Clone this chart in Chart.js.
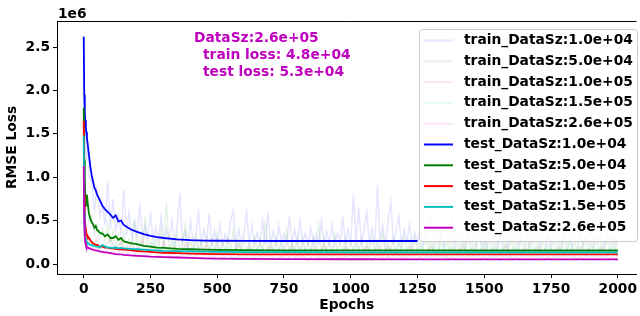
<!DOCTYPE html>
<html>
<head>
<meta charset="utf-8">
<script src="https://cdn.jsdelivr.net/npm/chart.js@4"></script>
<style>
  html, body { margin: 0; padding: 0; background: #fff; }
  #wrap { width: 640px; height: 316px; }
</style>
</head>
<body>
<div id="wrap"><canvas id="grafico" width="640" height="316"></canvas></div>
<script>
// valores en unidades de 1e6
const dataSizes = ['1.0e+04', '5.0e+04', '1.0e+05', '1.5e+05', '2.6e+05'];

// grilla fina (cada 10 epochs) para las curvas de train mas visibles
const epochsTrainFino = [0, 5, 10, 15, 20, 30, 40, 50, 60,
    70, 80, 90, 100, 110, 120, 130, 140, 150, 160,
    170, 180, 190, 200, 210, 220, 230, 240, 250, 260,
    270, 280, 290, 300, 310, 320, 330, 340, 350, 360,
    370, 380, 390, 400, 410, 420, 430, 440, 450, 460,
    470, 480, 490, 500, 510, 520, 530, 540, 550, 560,
    570, 580, 590, 600, 610, 620, 630, 640, 650, 660,
    670, 680, 690, 700, 710, 720, 730, 740, 750, 760,
    770, 780, 790, 800, 810, 820, 830, 840, 850, 860,
    870, 880, 890, 900, 910, 920, 930, 940, 950, 960,
    970, 980, 990, 1000, 1010, 1020, 1030, 1040, 1050, 1060,
    1070, 1080, 1090, 1100, 1110, 1120, 1130, 1140, 1150, 1160,
    1170, 1180, 1190, 1200, 1210, 1220, 1230, 1240, 1250, 1260,
    1270, 1280, 1290, 1300, 1310, 1320, 1330, 1340, 1350, 1360,
    1370, 1380, 1390, 1400, 1410, 1420, 1430, 1440, 1450, 1460,
    1470, 1480, 1490, 1500, 1510, 1520, 1530, 1540, 1550, 1560,
    1570, 1580, 1590, 1600, 1610, 1620, 1630, 1640, 1650, 1660,
    1670, 1680, 1690, 1700, 1710, 1720, 1730, 1740, 1750, 1760,
    1770, 1780, 1790, 1800, 1810, 1820, 1830, 1840, 1850, 1860,
    1870, 1880, 1890, 1900, 1910, 1920, 1930, 1940, 1950, 1960,
    1970, 1980, 1990, 2000];

const epochsTrain = [0, 5, 10, 15, 20, 30, 40, 50, 60,
    80, 100, 120, 140, 160, 180, 200, 220, 240, 260, 280,
    300, 320, 340, 360, 380, 400, 420, 440, 460, 480,
    500, 520, 540, 560, 580, 600, 620, 640, 660, 680,
    700, 720, 740, 760, 780, 800, 820, 840, 860, 880,
    900, 920, 940, 960, 980, 1000, 1020, 1040, 1060, 1080,
    1100, 1120, 1140, 1160, 1180, 1200, 1220, 1240, 1260, 1280,
    1300, 1320, 1340, 1360, 1380, 1400, 1420, 1440, 1460, 1480,
    1500, 1520, 1540, 1560, 1580, 1600, 1620, 1640, 1660, 1680,
    1700, 1720, 1740, 1760, 1780, 1800, 1820, 1840, 1860, 1880,
    1900, 1920, 1940, 1960, 1980, 2000];

const trainLoss1e4 = [2.6, 1.45, 1.2, 1.4, 1.0, 0.95, 0.6, 0.9, 0.55,
    0.7, 0.45, 0.95, 0.4, 0.75, 0.38, 0.55, 0.35, 0.85, 0.33,
    0.6, 0.3, 0.5, 0.32, 0.7, 0.28, 0.45, 0.3, 0.6, 0.27,
    0.42, 0.26, 0.55, 0.25, 0.4, 0.28, 0.5, 0.24, 0.45, 0.82,
    0.25, 0.38, 0.22, 0.5, 0.24, 0.35, 0.6, 0.22, 0.4, 0.25,
    0.58, 0.22, 0.38, 0.24, 0.45, 0.21, 0.35, 0.25, 0.5, 0.62,
    0.22, 0.4, 0.24, 0.35, 0.6, 0.22, 0.45, 0.23, 0.36, 0.25,
    0.5, 0.22, 0.6, 0.24, 0.38, 0.22, 0.45, 0.25, 0.35, 0.22,
    0.55, 0.23, 0.4, 0.22, 0.5, 0.25, 0.36, 0.22, 0.42, 0.24,
    0.35, 0.22, 0.5, 0.25, 0.38, 0.22, 0.45, 0.24, 0.36, 0.25,
    0.55, 0.22, 0.4, 0.24, 0.8, 0.25, 0.65, 0.22, 0.4, 0.6,
    0.24, 0.42, 0.22, 0.9, 0.25, 0.45, 0.22, 0.5, 0.72, 0.24,
    0.38, 0.55, 0.22, 0.4, 0.25, 0.45, 0.22, 0.36, 0.24, 0.4,
    0.22, 0.35, 0.25, 0.55, 0.22, 0.38, 0.24, 0.42, 0.22, 0.35,
    0.25, 0.5, 0.22, 0.36, 0.24, 0.38, 0.22, 0.45, 0.25, 0.35,
    0.22, 0.42, 0.24, 0.36, 0.22, 0.4, 0.25, 0.34, 0.22, 0.36,
    0.24, 0.45, 0.22, 0.35, 0.25, 0.38, 0.22, 0.34, 0.24, 0.4,
    0.22, 0.35, 0.25, 0.36, 0.22, 0.45, 0.24, 0.34, 0.22, 0.38,
    0.25, 0.35, 0.22, 0.4, 0.24, 0.34, 0.22, 0.36, 0.25, 0.38,
    0.22, 0.34, 0.24, 0.4, 0.22, 0.35, 0.25, 0.34, 0.22, 0.36,
    0.24, 0.32, 0.22, 0.3];

const trainLoss5e4 = [1.8, 0.9, 0.7, 0.75, 0.5, 0.55, 0.35, 0.45, 0.3,
    0.4, 0.25, 0.45, 0.22, 0.38, 0.2, 0.3, 0.19, 0.35, 0.18,
    0.28, 0.17, 0.5, 0.17, 0.3, 0.16, 0.55, 0.17, 0.26, 0.16,
    0.3, 0.15, 0.4, 0.16, 0.72, 0.15, 0.28, 0.16, 0.35, 0.15,
    0.25, 0.45, 0.15, 0.28, 0.14, 0.32, 0.15, 0.26, 0.14, 0.3,
    0.15, 0.28, 0.14, 0.35, 0.15, 0.25, 0.14, 0.3, 0.15, 0.4,
    0.14, 0.26, 0.15, 0.3, 0.14, 0.25, 0.15, 0.32, 0.14, 0.28,
    0.15, 0.5, 0.14, 0.27, 0.15, 0.3, 0.14, 0.25, 0.15, 0.38,
    0.14, 0.26, 0.15, 0.3, 0.14, 0.28, 0.15, 0.25, 0.14, 0.32,
    0.15, 0.45, 0.14, 0.28, 0.15, 0.26, 0.14, 0.35, 0.15, 0.25,
    0.14, 0.3, 0.15, 0.26, 0.14, 0.28, 0.15, 0.3, 0.14, 0.25,
    0.15, 0.3, 0.14, 0.28, 0.15, 0.35, 0.14, 0.25, 0.15, 0.3,
    0.14, 0.26, 0.15, 0.32, 0.14, 0.27, 0.15, 0.3, 0.14, 0.26,
    0.15, 0.3, 0.14, 0.28, 0.15, 0.26, 0.14, 0.36, 0.15, 0.27,
    0.14, 0.3, 0.15, 0.25, 0.14, 0.28, 0.15, 0.32, 0.14, 0.26,
    0.15, 0.48, 0.14, 0.28, 0.15, 0.3, 0.14, 0.25, 0.15, 0.32,
    0.14, 0.27, 0.15, 0.3, 0.14, 0.26, 0.15, 0.28, 0.14, 0.34,
    0.15, 0.26, 0.14, 0.3, 0.15, 0.27, 0.14, 0.32, 0.15, 0.28,
    0.14, 0.26, 0.15, 0.3, 0.14, 0.28, 0.15, 0.26, 0.14, 0.5,
    0.15, 0.3, 0.14, 0.27, 0.15, 0.29, 0.14, 0.26, 0.15, 0.3,
    0.14, 0.27, 0.15, 0.28];

const trainLoss1e5 = [1.65, 0.55, 0.4, 0.35, 0.3, 0.28, 0.24, 0.3, 0.2,
    0.18, 0.3, 0.15, 0.26, 0.14, 0.24, 0.13, 0.28, 0.12, 0.22, 0.11,
    0.25, 0.11, 0.2, 0.1, 0.24, 0.1, 0.18, 0.1, 0.22, 0.09,
    0.2, 0.09, 0.17, 0.1, 0.22, 0.09, 0.18, 0.09, 0.16, 0.09,
    0.2, 0.09, 0.17, 0.09, 0.21, 0.08, 0.16, 0.09, 0.19, 0.08,
    0.22, 0.09, 0.16, 0.08, 0.19, 0.09, 0.17, 0.08, 0.2, 0.09,
    0.18, 0.08, 0.2, 0.09, 0.16, 0.08, 0.19, 0.09, 0.17, 0.08,
    0.21, 0.09, 0.16, 0.08, 0.18, 0.09, 0.2, 0.08, 0.16, 0.09,
    0.19, 0.08, 0.17, 0.09, 0.21, 0.08, 0.16, 0.09, 0.18, 0.08,
    0.2, 0.09, 0.16, 0.08, 0.19, 0.09, 0.17, 0.08, 0.2, 0.09,
    0.17, 0.08, 0.19, 0.09, 0.16, 0.08];

const trainLoss15e4 = [1.48, 0.45, 0.35, 0.3, 0.28, 0.26, 0.22, 0.27, 0.2,
    0.19, 0.28, 0.17, 0.25, 0.16, 0.26, 0.15, 0.23, 0.14, 0.25, 0.14,
    0.22, 0.13, 0.26, 0.13, 0.21, 0.13, 0.24, 0.12, 0.2, 0.12,
    0.23, 0.12, 0.2, 0.12, 0.25, 0.12, 0.19, 0.12, 0.22, 0.12,
    0.2, 0.12, 0.23, 0.11, 0.19, 0.12, 0.22, 0.11, 0.24, 0.12,
    0.2, 0.11, 0.22, 0.12, 0.19, 0.11, 0.23, 0.12, 0.2, 0.11,
    0.22, 0.12, 0.19, 0.11, 0.24, 0.12, 0.2, 0.11, 0.22, 0.12,
    0.19, 0.11, 0.23, 0.12, 0.2, 0.11, 0.22, 0.12, 0.19, 0.11,
    0.24, 0.12, 0.2, 0.11, 0.22, 0.12, 0.19, 0.11, 0.23, 0.12,
    0.2, 0.11, 0.22, 0.12, 0.19, 0.11, 0.24, 0.12, 0.2, 0.11,
    0.22, 0.12, 0.19, 0.11, 0.21, 0.12];

const trainLoss26e4 = [1.13, 0.32, 0.25, 0.22, 0.2, 0.18, 0.16, 0.2, 0.14,
    0.13, 0.2, 0.11, 0.17, 0.1, 0.16, 0.09, 0.15, 0.08, 0.14, 0.08,
    0.13, 0.07, 0.12, 0.07, 0.14, 0.06, 0.11, 0.06, 0.12, 0.06,
    0.11, 0.05, 0.12, 0.06, 0.1, 0.05, 0.12, 0.05, 0.1, 0.05,
    0.11, 0.05, 0.1, 0.04, 0.12, 0.05, 0.1, 0.04, 0.11, 0.05,
    0.1, 0.04, 0.11, 0.05, 0.09, 0.04, 0.11, 0.05, 0.1, 0.04,
    0.11, 0.04, 0.09, 0.05, 0.1, 0.04, 0.11, 0.05, 0.09, 0.04,
    0.1, 0.05, 0.11, 0.04, 0.09, 0.05, 0.1, 0.04, 0.11, 0.05,
    0.09, 0.04, 0.1, 0.05, 0.11, 0.04, 0.09, 0.05, 0.1, 0.04,
    0.11, 0.05, 0.09, 0.04, 0.1, 0.05, 0.11, 0.04, 0.09, 0.05,
    0.1, 0.04, 0.11, 0.05, 0.09, 0.04];

const epochsTest = [0, 2, 4, 6, 8, 10, 12, 15, 18, 20,
    25, 30, 35, 40, 45, 50, 55, 60, 70, 80,
    90, 100, 110, 120, 130, 140, 150, 175, 200, 225,
    250, 275, 300, 350, 400, 450, 500, 600, 750, 1000,
    1250, 1500, 1750, 2000];

const testLoss1e4 = [2.62, 1.95, 1.75, 1.66, 1.58, 1.52, 1.45, 1.38, 1.3, 1.25,
    1.12, 1.02, 0.95, 0.88, 0.85, 0.8, 0.77, 0.74, 0.67, 0.63,
    0.6, 0.57, 0.53, 0.56, 0.49, 0.5, 0.45, 0.4, 0.37, 0.345,
    0.325, 0.31, 0.3, 0.285, 0.275, 0.27, 0.268, 0.266, 0.265, 0.265,
    0.265, null, null, null];

const testLoss5e4 = [1.8, 1.2, 1.0, 0.72, 0.66, 0.72, 0.8, 0.7, 0.62, 0.58,
    0.52, 0.48, 0.46, 0.42, 0.44, 0.39, 0.38, 0.36, 0.35, 0.32,
    0.34, 0.3, 0.3, 0.32, 0.28, 0.3, 0.26, 0.24, 0.23, 0.21,
    0.2, 0.19, 0.185, 0.175, 0.17, 0.165, 0.162, 0.16, 0.158, 0.157,
    0.157, 0.156, 0.156, 0.156];

const testLoss1e5 = [1.65, 0.8, 0.5, 0.42, 0.38, 0.35, 0.33, 0.32, 0.3, 0.3,
    0.27, 0.25, 0.24, 0.23, 0.22, 0.22, 0.21, 0.2, 0.2, 0.19,
    0.19, 0.18, 0.18, 0.175, 0.17, 0.17, 0.165, 0.16, 0.15, 0.145,
    0.14, 0.135, 0.13, 0.125, 0.12, 0.117, 0.115, 0.112, 0.11, 0.11,
    0.11, 0.11, 0.11, 0.11];

const testLoss15e4 = [1.48, 0.6, 0.35, 0.3, 0.27, 0.26, 0.25, 0.24, 0.24, 0.23,
    0.22, 0.22, 0.21, 0.21, 0.2, 0.2, 0.2, 0.19, 0.22, 0.2,
    0.19, 0.19, 0.185, 0.19, 0.18, 0.185, 0.18, 0.175, 0.17, 0.165,
    0.16, 0.156, 0.152, 0.148, 0.145, 0.142, 0.14, 0.138, 0.136, 0.135,
    0.135, 0.135, 0.135, 0.135];

const testLoss26e4 = [1.13, 0.5, 0.3, 0.25, 0.22, 0.21, 0.2, 0.19, 0.185, 0.18,
    0.175, 0.17, 0.165, 0.16, 0.157, 0.155, 0.15, 0.145, 0.14, 0.135,
    0.13, 0.125, 0.12, 0.115, 0.112, 0.11, 0.105, 0.1, 0.095, 0.09,
    0.085, 0.082, 0.08, 0.075, 0.07, 0.066, 0.063, 0.06, 0.057, 0.055,
    0.054, 0.053, 0.053, 0.053];

const xTicks = [0, 250, 500, 750, 1000, 1250, 1500, 1750, 2000];
const yTicks = [0, 0.5, 1.0, 1.5, 2.0, 2.5];

const anotacion = ['DataSz:2.6e+05', 'train loss: 4.8e+04', 'test loss: 5.3e+04'];

const colores = ['#0000ff', '#008000', '#ff0000', '#00bfbf', '#bf00bf'];
const coloresTenues = ['rgba(0,0,255,0.1)', 'rgba(0,128,0,0.1)', 'rgba(255,0,0,0.1)',
    'rgba(0,191,191,0.1)', 'rgba(191,0,191,0.1)'];

const FUENTE = 'DejaVu Sans';
const TAM = 13.8;

function armarSerie(xs, ys) {
    return xs.map((x, i) => ({ x: x, y: ys[i] }));
}

const trainSeries = [
    [epochsTrainFino, trainLoss1e4],
    [epochsTrainFino, trainLoss5e4],
    [epochsTrain, trainLoss1e5],
    [epochsTrain, trainLoss15e4],
    [epochsTrain, trainLoss26e4]
];
const testSeries = [testLoss1e4, testLoss5e4, testLoss1e5, testLoss15e4, testLoss26e4];

const datasets = [];
trainSeries.forEach(([xs, serie], i) => {
    datasets.push({
        label: 'train_DataSz:' + dataSizes[i],
        data: armarSerie(xs, serie),
        borderColor: coloresTenues[i],
        borderWidth: 1.5,
        pointRadius: 0,
        spanGaps: false,
        order: 9 - i
    });
});
testSeries.forEach((serie, i) => {
    datasets.push({
        label: 'test_DataSz:' + dataSizes[i],
        data: armarSerie(epochsTest, serie),
        borderColor: colores[i],
        borderWidth: 1.8,
        pointRadius: 0,
        spanGaps: false,
        order: 4 - i
    });
});

// dibuja borde superior, "1e6", anotacion y leyenda estilo matplotlib
const extras = {
    id: 'extras',
    afterDraw(chart) {
        const ctx = chart.ctx;
        const area = chart.chartArea;
        ctx.save();
        ctx.strokeStyle = '#000';
        ctx.lineWidth = 1;
        ctx.beginPath();
        ctx.moveTo(area.left, area.top + 0.5);
        ctx.lineTo(area.right, area.top + 0.5);
        ctx.stroke();

        ctx.fillStyle = '#000';
        ctx.font = 'bold ' + TAM + 'px "' + FUENTE + '"';
        ctx.textBaseline = 'middle';
        ctx.textAlign = 'left';
        ctx.fillText('1e6', 58, 14);

        ctx.fillStyle = '#bf00bf';
        ctx.fillText(anotacion[0], 194, 38);
        ctx.fillText(anotacion[1], 203, 55);
        ctx.fillText(anotacion[2], 203, 72);

        // leyenda
        const lx = 419, ly = 29, lw = 218, lh = 212;
        ctx.beginPath();
        ctx.roundRect(lx + 0.5, ly + 0.5, lw, lh, 3);
        ctx.fillStyle = 'rgba(255,255,255,0.8)';
        ctx.fill();
        ctx.strokeStyle = '#cccccc';
        ctx.stroke();

        const items = datasets.map(d => ({ label: d.label, color: d.borderColor }));
        items.forEach((it, i) => {
            const y = 40.5 + i * 20.8;
            ctx.strokeStyle = it.color;
            ctx.lineWidth = 2;
            ctx.beginPath();
            ctx.moveTo(424, y);
            ctx.lineTo(453, y);
            ctx.stroke();
            ctx.fillStyle = '#000';
            ctx.fillText(it.label, 464, y);
        });
        ctx.restore();
    }
};

function crearGrafico() {
    const ctx = document.getElementById('grafico');
    const fuenteTicks = { family: FUENTE, weight: 'bold', size: TAM };

    new Chart(ctx, {
        type: 'line',
        data: { datasets: datasets },
        options: {
            responsive: false,
            animation: false,
            layout: { padding: { top: 21, left: 0, right: 0, bottom: 0 } },
            plugins: {
                legend: { display: false },
                tooltip: { enabled: false }
            },
            scales: {
                x: {
                    type: 'linear',
                    min: -100,
                    max: 2070,
                    afterBuildTicks: s => { s.ticks = xTicks.map(v => ({ value: v })); },
                    afterFit: s => { s.height = 42; },
                    grid: { drawOnChartArea: false, drawTicks: true, tickLength: 4, tickColor: '#000' },
                    border: { display: true, color: '#000', width: 1 },
                    ticks: { font: fuenteTicks, color: '#000', padding: 3, maxRotation: 0, callback: v => String(v) },
                    title: { display: true, text: 'Epochs', font: fuenteTicks, color: '#000', padding: { top: 0, bottom: 2 } }
                },
                y: {
                    min: -0.115,
                    max: 2.8,
                    afterBuildTicks: s => { s.ticks = yTicks.map(v => ({ value: v })); },
                    afterFit: s => { s.width = 57; },
                    grid: { drawOnChartArea: false, drawTicks: true, tickLength: 4, tickColor: '#000' },
                    border: { display: true, color: '#000', width: 1 },
                    ticks: { font: fuenteTicks, color: '#000', padding: 3, callback: v => v.toFixed(1) },
                    title: { display: true, text: 'RMSE Loss', font: fuenteTicks, color: '#000', padding: { top: 4, bottom: 0 } }
                }
            }
        },
        plugins: [extras]
    });
}

document.addEventListener('DOMContentLoaded', crearGrafico);
</script>
</body>
</html>
